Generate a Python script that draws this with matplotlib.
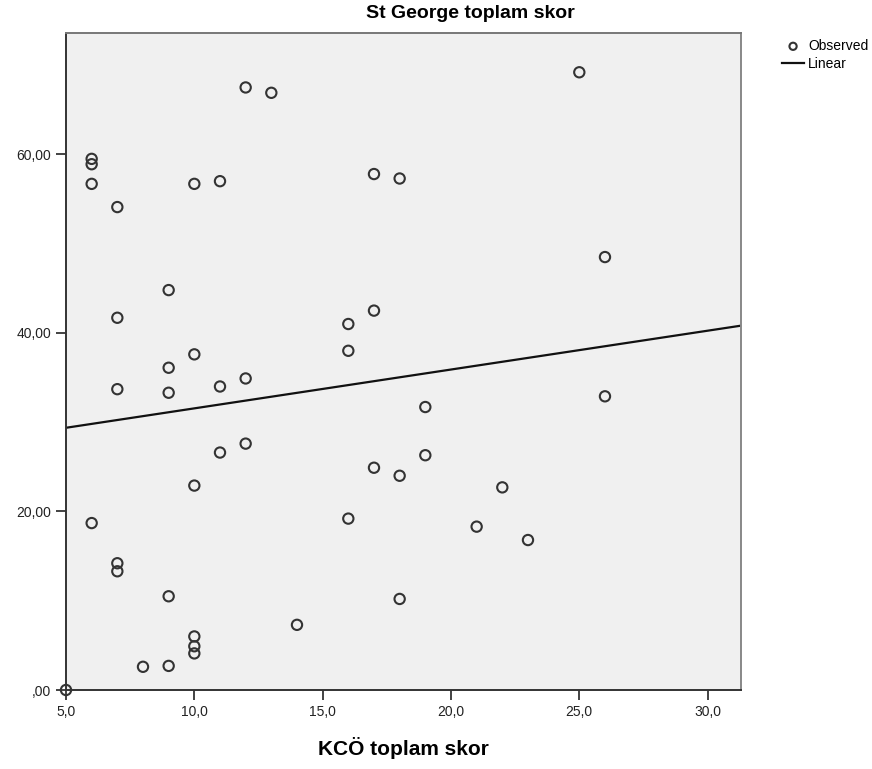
import numpy as np
from matplotlib import pyplot as plt

# KCÖ toplam skor (x) vs St George toplam skor (y)
kco = [5,
       6, 6, 6, 6,
       7, 7, 7, 7, 7,
       8,
       9, 9, 9, 9, 9,
       10, 10, 10, 10, 10, 10,
       11, 11, 11,
       12, 12, 12,
       13, 14,
       16, 16, 16,
       17, 17, 17,
       18, 18, 18,
       19, 19,
       21, 22, 23, 25,
       26, 26]
stgeorge = [0.0,
            59.5, 58.9, 56.7, 18.7,
            54.1, 41.7, 33.7, 14.2, 13.3,
            2.6,
            44.8, 36.1, 33.3, 10.5, 2.7,
            56.7, 37.6, 22.9, 6.0, 4.9, 4.1,
            57.0, 34.0, 26.6,
            67.5, 34.9, 27.6,
            66.9, 7.3,
            41.0, 38.0, 19.2,
            57.8, 42.5, 24.9,
            57.3, 24.0, 10.2,
            31.7, 26.3,
            18.3, 22.7, 16.8, 69.2,
            48.5, 32.9]

# linear fit as shown by SPSS (intercept, slope)
fit_intercept = 27.2
fit_slope = 0.435

xticks = [5, 10, 15, 20, 25, 30]
yticks = [0, 20, 40, 60]

plt.rcParams['font.family'] = ['Liberation Sans Narrow', 'Liberation Sans', 'DejaVu Sans']

fig = plt.figure(figsize=(8.72, 7.69), dpi=100)
ax = fig.add_axes([66/872, 79/769, 675/872, 657/769])
ax.set_facecolor('#f0f0f0')

xlim = (5, 31.3)
ax.set_xlim(*xlim)
ax.set_ylim(0, 73.6)

ax.scatter(kco, stgeorge, s=55, facecolors='none', edgecolors='#333333',
           linewidths=1.5, zorder=3, label='Observed', clip_on=False)
xx = np.array(xlim)
ax.plot(xx, fit_intercept + fit_slope*xx, color='#111111', lw=1.6, zorder=2, label='Linear')

ax.set_xticks(xticks)
ax.set_xticklabels([f"{v:.1f}".replace('.', ',') for v in xticks])
ax.set_yticks(yticks)
ax.set_yticklabels([",00" if v == 0 else f"{v:.2f}".replace('.', ',') for v in yticks])
ax.tick_params(direction='out', length=7, width=1.2, colors='#222222', labelsize=10)

for name, sp in ax.spines.items():
    sp.set_color('#333333')
    sp.set_linewidth(1.4)
ax.spines['top'].set_color('#777777')
ax.spines['right'].set_color('#888888')

fig.text(470/872, 1 - 13/769, 'St George toplam skor', ha='center', va='center',
         fontsize=14, fontweight='bold')
fig.text(403/872, 1 - 748/769, 'KCÖ toplam skor', ha='center', va='center',
         fontsize=15, fontweight='bold')

fig.legend(loc='upper left', bbox_to_anchor=(775/872, 1 - 32/769), frameon=False,
           fontsize=10, handlelength=1.6, handletextpad=0.3, labelspacing=0.3,
           borderpad=0, markerscale=0.7)

fig.savefig('out.png', dpi=100)
